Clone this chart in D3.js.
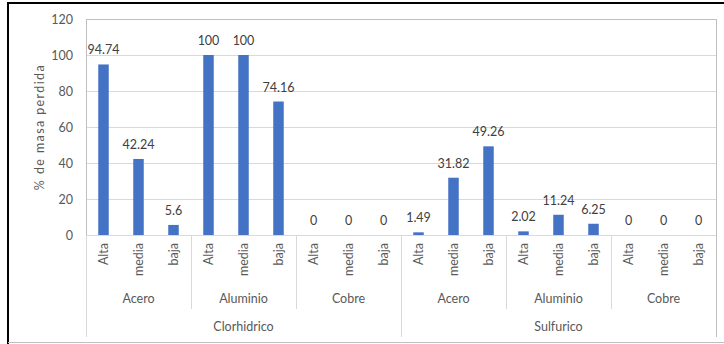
<!DOCTYPE html>
<html>
<head>
<meta charset="utf-8">
<script src="https://cdn.jsdelivr.net/npm/d3@7"></script>
<style>
  html, body { margin: 0; padding: 0; background: #fff; }
  svg { display: block; font-family: Lato, "Open Sans", sans-serif; }
</style>
</head>
<body>
<svg id="chart" width="724" height="344"></svg>
<script>
// Mass loss (%) by acid, metal and concentration
const acids = ["Clorhidrico", "Sulfurico"];
const metals = ["Acero", "Aluminio", "Cobre"];
const levels = ["Alta", "media", "baja"];
const clorhidricoValues = [94.74, 42.24, 5.6, 100, 100, 74.16, 0, 0, 0];
const sulfuricoValues = [1.49, 31.82, 49.26, 2.02, 11.24, 6.25, 0, 0, 0];
const yTicks = [0, 20, 40, 60, 80, 100, 120];
const yTitle = "% de masa perdida";

const seriesByAcid = { Clorhidrico: clorhidricoValues, Sulfurico: sulfuricoValues };
const rows = [];
acids.forEach(a => metals.forEach((m, mi) => levels.forEach((l, li) => {
  rows.push({ acid: a, metal: m, level: l, key: `${a}|${m}|${l}`, value: seriesByAcid[a][mi * 3 + li] });
})));

const svg = d3.select("#chart");
const plotLeft = 86, plotRight = 716, plotTop = 19, plotBottom = 235;

const x = d3.scaleBand().domain(rows.map(d => d.key)).range([plotLeft, plotRight]).paddingInner(0.7).paddingOuter(0.35);
const xSlot = d3.scaleBand().domain(rows.map(d => d.key)).range([plotLeft, plotRight]);
const y = d3.scaleLinear().domain([0, 120]).range([plotBottom, plotTop]);

const textColor = "#595959";
const gridColor = "#d9d9d9";

// Outer frame
svg.append("line").attr("x1", 8).attr("x2", 724).attr("y1", 3).attr("y2", 3).attr("stroke", "#000").attr("stroke-width", 2);
svg.append("line").attr("x1", 8).attr("x2", 8).attr("y1", 2).attr("y2", 344).attr("stroke", "#000").attr("stroke-width", 2);
svg.append("line").attr("x1", 8).attr("x2", 724).attr("y1", 342.5).attr("y2", 342.5).attr("stroke", "#bfbfbf").attr("stroke-width", 1);

// Horizontal gridlines
svg.append("g").selectAll("line").data(yTicks.filter(t => t > 0)).join("line")
  .attr("x1", plotLeft).attr("x2", plotRight)
  .attr("y1", d => Math.round(y(d)) + 0.5).attr("y2", d => Math.round(y(d)) + 0.5)
  .attr("stroke", d => d === 120 ? "#bfbfbf" : gridColor);

// Right border of plot area
svg.append("line").attr("x1", plotRight + 0.5).attr("x2", plotRight + 0.5).attr("y1", plotTop).attr("y2", 337)
  .attr("stroke", "#bfbfbf");

// Y axis
const yAxis = d3.axisLeft(y).tickValues(yTicks).tickSize(0).tickPadding(13);
const ya = svg.append("g").attr("transform", `translate(${plotLeft},0)`).call(yAxis);
ya.select(".domain").attr("stroke", "#bfbfbf");
ya.selectAll("text").attr("fill", textColor).attr("font-size", 12.5).attr("font-family", "Lato, sans-serif");

svg.append("text")
  .attr("transform", `translate(44,${(plotTop + plotBottom) / 2}) rotate(-90)`)
  .attr("text-anchor", "middle")
  .attr("fill", textColor).attr("font-size", 12.5).attr("letter-spacing", 1.4)
  .text(yTitle);

// Bars
svg.append("g").selectAll("rect").data(rows).join("rect")
  .attr("x", d => x(d.key)).attr("width", x.bandwidth())
  .attr("y", d => y(d.value)).attr("height", d => y(0) - y(d.value))
  .attr("fill", "#4472c4");

// Value labels
svg.append("g").selectAll("text").data(rows).join("text")
  .attr("x", d => x(d.key) + x.bandwidth() / 2)
  .attr("y", d => y(d.value) - 10)
  .attr("text-anchor", "middle")
  .attr("fill", "#404040").attr("font-size", 12.5)
  .text(d => d.value);

// X axis baseline
svg.append("line").attr("x1", plotLeft).attr("x2", plotRight).attr("y1", plotBottom + 0.5).attr("y2", plotBottom + 0.5).attr("stroke", gridColor);

// Level labels (rotated)
svg.append("g").selectAll("text").data(rows).join("text")
  .attr("transform", d => `translate(${xSlot(d.key) + xSlot.bandwidth() / 2 + 4.5},243) rotate(-90)`)
  .attr("text-anchor", "end")
  .attr("fill", textColor).attr("font-size", 12.5)
  .text(d => d.level);

// Metal group separators and labels
const groups = [];
acids.forEach(a => metals.forEach(m => groups.push({ acid: a, metal: m })));
const groupX0 = g => xSlot(`${g.acid}|${g.metal}|${levels[0]}`);
const groupX1 = g => xSlot(`${g.acid}|${g.metal}|${levels[levels.length - 1]}`) + xSlot.bandwidth();

svg.append("g").selectAll("line").data(groups.slice(1)).join("line")
  .attr("x1", d => Math.round(groupX0(d)) + 0.5).attr("x2", d => Math.round(groupX0(d)) + 0.5)
  .attr("y1", plotBottom).attr("y2", d => metals.indexOf(d.metal) === 0 ? 337 : 309)
  .attr("stroke", gridColor);
svg.append("line").attr("x1", plotLeft + 0.5).attr("x2", plotLeft + 0.5).attr("y1", plotBottom).attr("y2", 337).attr("stroke", gridColor);

svg.append("g").selectAll("text").data(groups).join("text")
  .attr("x", d => (groupX0(d) + groupX1(d)) / 2)
  .attr("y", 303)
  .attr("text-anchor", "middle")
  .attr("fill", textColor).attr("font-size", 12.5)
  .text(d => d.metal);

// Acid labels
svg.append("g").selectAll("text").data(acids).join("text")
  .attr("x", a => (xSlot(`${a}|${metals[0]}|${levels[0]}`) + xSlot(`${a}|${metals[2]}|${levels[2]}`) + xSlot.bandwidth()) / 2)
  .attr("y", 331)
  .attr("text-anchor", "middle")
  .attr("fill", textColor).attr("font-size", 12.5)
  .text(a => a);
</script>
</body>
</html>
